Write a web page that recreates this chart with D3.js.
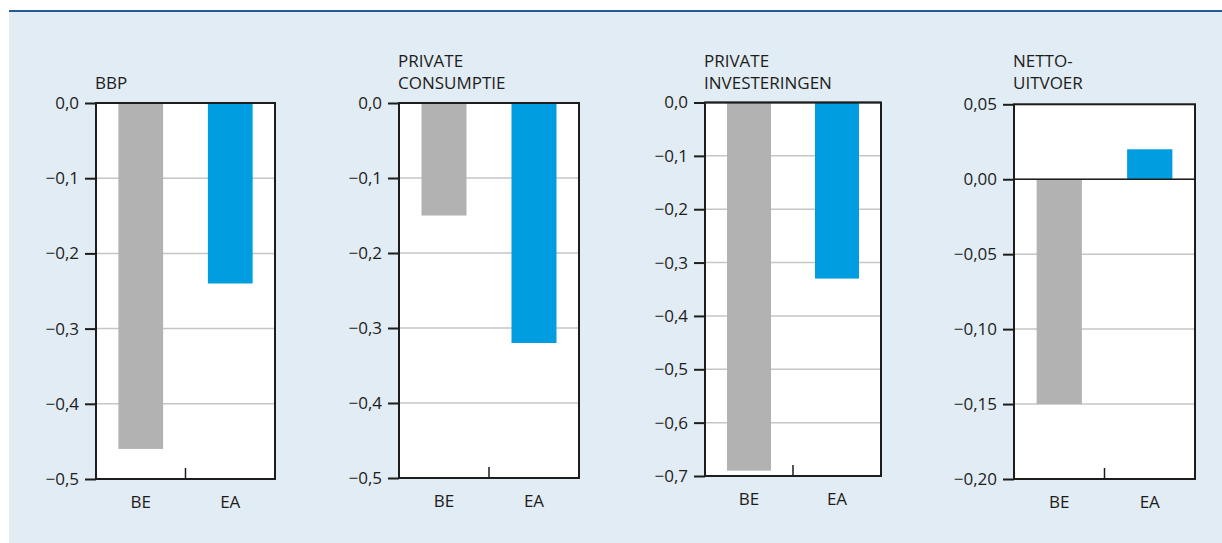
<!DOCTYPE html>
<html>
<head>
<meta charset="utf-8">
<script src="https://cdn.jsdelivr.net/npm/d3@7"></script>
<style>
  html, body { margin: 0; padding: 0; background: #ffffff; }
  svg { display: block; }
  text { font-family: "Open Sans", "Noto Sans", sans-serif; fill: #1d1d1b; }
</style>
</head>
<body>
<svg id="chart" width="1222" height="543"></svg>
<script>
// Categories and values per panel
const categories = ["BE", "EA"];
const panelTitles = [["BBP"], ["PRIVATE", "CONSUMPTIE"], ["PRIVATE", "INVESTERINGEN"], ["NETTO-", "UITVOER"]];
const bbpValues = [-0.46, -0.24];
const consumptieValues = [-0.15, -0.32];
const investeringenValues = [-0.69, -0.33];
const uitvoerValues = [-0.15, 0.02];
const bbpTicks = [0, -0.1, -0.2, -0.3, -0.4, -0.5];
const consumptieTicks = [0, -0.1, -0.2, -0.3, -0.4, -0.5];
const investeringenTicks = [0, -0.1, -0.2, -0.3, -0.4, -0.5, -0.6, -0.7];
const uitvoerTicks = [0.05, 0, -0.05, -0.1, -0.15, -0.2];

const barColors = ["#b2b2b3", "#009ee0"];
const FONT = 17;

const svg = d3.select("#chart");

// Background band and top rule
svg.append("rect").attr("x", 9).attr("y", 12).attr("width", 1213).attr("height", 531).attr("fill", "#e1ecf4");
svg.append("rect").attr("x", 9).attr("y", 10).attr("width", 1213).attr("height", 2).attr("fill", "#255b95");

const panels = [
  { title: panelTitles[0], values: bbpValues, ticks: bbpTicks, decimals: 1, left: 96, right: 275, top: 103, bottom: 479 },
  { title: panelTitles[1], values: consumptieValues, ticks: consumptieTicks, decimals: 1, left: 399, right: 579, top: 103, bottom: 478 },
  { title: panelTitles[2], values: investeringenValues, ticks: investeringenTicks, decimals: 1, left: 705, right: 881, top: 102.5, bottom: 476 },
  { title: panelTitles[3], values: uitvoerValues, ticks: uitvoerTicks, decimals: 2, left: 1014, right: 1195, top: 104.3, bottom: 479 }
];

function fmt(v, d) {
  const s = Math.abs(v).toFixed(d).replace(".", ",");
  return (v < -1e-9 ? "\u2212" : "") + s;
}

panels.forEach(p => {
  const g = svg.append("g");
  const x = d3.scaleBand().domain(categories).range([p.left, p.right]).paddingInner(0.5).paddingOuter(0.25);
  const y = d3.scaleLinear().domain([d3.min(p.ticks), d3.max(p.ticks)]).range([p.bottom, p.top]);

  // plot area
  g.append("rect").attr("x", p.left).attr("y", p.top).attr("width", p.right - p.left).attr("height", p.bottom - p.top).attr("fill", "#ffffff");

  // gridlines
  g.selectAll(".grid").data(p.ticks).join("line")
    .attr("x1", p.left).attr("x2", p.right)
    .attr("y1", d => y(d)).attr("y2", d => y(d))
    .attr("stroke", "#c6c6c6").attr("stroke-width", 1.5);

  // bars
  g.selectAll(".bar").data(p.values).join("rect")
    .attr("x", (d, i) => x(categories[i]))
    .attr("width", x.bandwidth())
    .attr("y", d => y(Math.max(0, d)))
    .attr("height", d => Math.abs(y(d) - y(0)))
    .attr("fill", (d, i) => barColors[i]);

  // zero line
  g.append("line").attr("x1", p.left).attr("x2", p.right).attr("y1", y(0)).attr("y2", y(0))
    .attr("stroke", "#1d1d1b").attr("stroke-width", 1.5);

  // frame
  g.append("rect").attr("x", p.left).attr("y", p.top).attr("width", p.right - p.left).attr("height", p.bottom - p.top)
    .attr("fill", "none").attr("stroke", "#1d1d1b").attr("stroke-width", 2);

  // category separator tick
  const mid = (p.left + p.right) / 2;
  g.append("line").attr("x1", mid).attr("x2", mid).attr("y1", p.bottom).attr("y2", p.bottom - 11)
    .attr("stroke", "#1d1d1b").attr("stroke-width", 1.5);

  // y axis
  const yAxis = d3.axisLeft(y).tickValues(p.ticks).tickSize(11).tickPadding(6).tickFormat(d => fmt(d, p.decimals));
  const ya = g.append("g").attr("transform", `translate(${p.left},0)`).call(yAxis);
  ya.attr("font-size", null).attr("font-family", null);
  ya.select(".domain").remove();
  ya.selectAll(".tick line").attr("stroke", "#1d1d1b").attr("stroke-width", 2);
  ya.selectAll(".tick text").style("font-size", FONT + "px").attr("fill", "#1d1d1b");

  // x labels
  g.selectAll(".xl").data(categories).join("text")
    .attr("x", d => x(d) + x.bandwidth() / 2)
    .attr("y", p.bottom + 29)
    .attr("text-anchor", "middle")
    .style("font-size", FONT + "px")
    .text(d => d);

  // title
  const lines = p.title;
  const t = g.append("text").style("font-size", FONT + "px");
  lines.forEach((ln, i) => {
    t.append("tspan").attr("x", p.left - 1).attr("y", 89 - (lines.length - 1 - i) * 22).text(ln);
  });
});
</script>
</body>
</html>
